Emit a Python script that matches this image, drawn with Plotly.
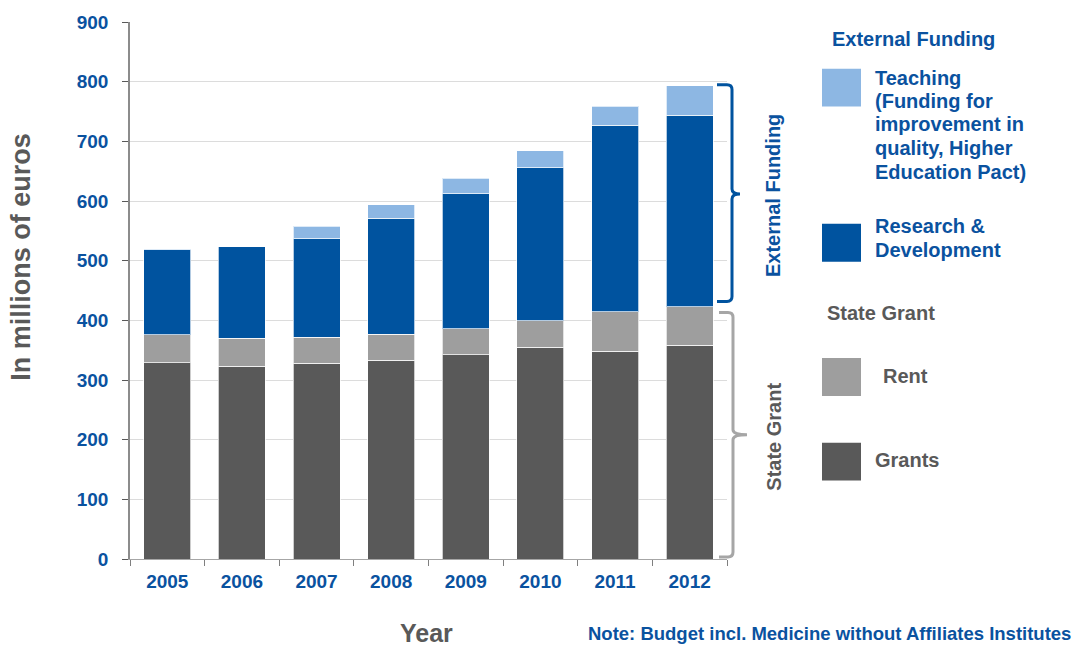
import plotly.graph_objects as go

years = ["2005", "2006", "2007", "2008", "2009", "2010", "2011", "2012"]
grants = [329, 323, 328, 333, 342, 355, 348, 358]
rent = [47, 47, 44, 44, 44, 44, 66, 65]
research = [142, 153, 165, 194, 226, 257, 313, 321]
teaching = [1, 0, 21, 23, 26, 28, 32, 49]

y_ticks = [0, 100, 200, 300, 400, 500, 600, 700, 800, 900]

BLUE_TXT = "#0A529F"
GRAY_TXT = "#595959"
C_TEACH = "#8DB7E3"
C_RD = "#00539F"
C_RENT = "#9E9E9E"
C_GRANT = "#595959"
FONT = "Liberation Sans, Arial, sans-serif"

W, H = 1078, 647
L, R, T, B = 130, 727, 19, 559


def px(x):
    return (x - L) / (R - L)


def py(y):
    return (B - y) / (B - T)


fig = go.Figure()
line = dict(color="rgba(255,255,255,0.7)", width=1)
for name, vals, col in [("Grants", grants, C_GRANT), ("Rent", rent, C_RENT),
                        ("Research & Development", research, C_RD),
                        ("Teaching", teaching, C_TEACH)]:
    fig.add_trace(go.Bar(x=years, y=vals, name=name, marker=dict(color=col, line=line),
                         showlegend=False, hoverinfo="skip"))

fig.update_layout(
    width=W, height=H, barmode="stack", bargap=0.37,
    margin=dict(l=L, r=W - R, t=T, b=H - B, pad=0),
    plot_bgcolor="white", paper_bgcolor="white",
    font=dict(family=FONT),
    xaxis=dict(type="category", showline=True, linecolor="#A6A6A6", linewidth=1,
               ticks="outside", tickson="boundaries", ticklen=6, tickcolor="#7F7F7F",
               tickfont=dict(family=FONT, size=19, color=BLUE_TXT, weight="bold"),
               showgrid=False, ticklabelstandoff=5),
    yaxis=dict(range=[0, 900], tickvals=y_ticks, showline=True, linecolor="#8C8C8C",
               linewidth=1.5, ticks="outside", ticklen=6, tickcolor="#595959",
               gridcolor="#DCDCDC", gridwidth=1,
               tickfont=dict(family=FONT, size=19, color=BLUE_TXT, weight="bold"),
               ticklabelstandoff=10, zeroline=False),
)

ann = []


def text(t, x, y, size, color, xanchor="center", angle=0, align="center"):
    ann.append(dict(text=t, x=px(x), y=py(y), xref="paper", yref="paper",
                    xanchor=xanchor, yanchor="middle", textangle=angle, align=align,
                    showarrow=False, font=dict(size=size, color=color, family=FONT)))


# axis titles
text("<b>In millions of euros</b>", 21, 255, 27, GRAY_TXT, angle=-90)
text("<b>Year</b>", 426, 633, 25, GRAY_TXT)
text("<b>Note: Budget incl. Medicine without Affiliates Institutes</b>", 1073, 634, 18.5,
     BLUE_TXT, xanchor="right")
# bracket labels
text("<b>External Funding</b>", 773, 194, 20, BLUE_TXT, angle=-90)
text("<b>State Grant</b>", 774, 436, 20, GRAY_TXT, angle=-90)

# legend
legend_items = [
    (["Teaching", "(Funding for", "improvement in", "quality, Higher", "Education Pact)"],
     C_TEACH, BLUE_TXT, 66, 873, [75, 98, 122, 146, 170]),
    (["Research &amp;", "Development"], C_RD, BLUE_TXT, 222, 873, [224, 248]),
    (["Rent"], C_RENT, GRAY_TXT, 357, 881, [375]),
    (["Grants"], C_GRANT, GRAY_TXT, 442, 873, [459]),
]
shapes = []
for lines, col, tcol, top, tx, tys in legend_items:
    shapes.append(dict(type="rect", xref="paper", yref="paper", x0=px(822), x1=px(861),
                       y0=py(top), y1=py(top + 38), fillcolor=col, line=dict(width=0)))
    for t, ty in zip(lines, tys):
        text(f"<b>{t}</b>", tx, ty, 20, tcol, xanchor="left", align="left")
text("<b>External Funding</b>", 830, 36, 20, BLUE_TXT, xanchor="left")
text("<b>State Grant</b>", 825, 312, 20, GRAY_TXT, xanchor="left")


def bracket(top, bot, mid, x0, x1, x2, r):
    def P(x, y):
        return f"{px(x):.5f},{py(y):.5f}"
    return (f"M {P(x0, top)} L {P(x1 - r, top)} Q {P(x1, top)} {P(x1, top + r)} "
            f"L {P(x1, mid - r)} Q {P(x1, mid)} {P(x2, mid)} Q {P(x1, mid)} {P(x1, mid + r)} "
            f"L {P(x1, bot - r)} Q {P(x1, bot)} {P(x1 - r, bot)} L {P(x0, bot)}")


shapes.append(dict(type="path", xref="paper", yref="paper",
                   path=bracket(82, 300, 192, 717, 732, 740, 5),
                   line=dict(color=C_RD, width=3)))
shapes.append(dict(type="path", xref="paper", yref="paper",
                   path=bracket(311, 557, 434, 719, 733, 747, 5),
                   line=dict(color="#A6A6A6", width=3)))

fig.update_layout(annotations=ann, shapes=shapes)
fig.write_html("out.html", config={"displayModeBar": False},
               post_script="document.body.style.margin='0';")
